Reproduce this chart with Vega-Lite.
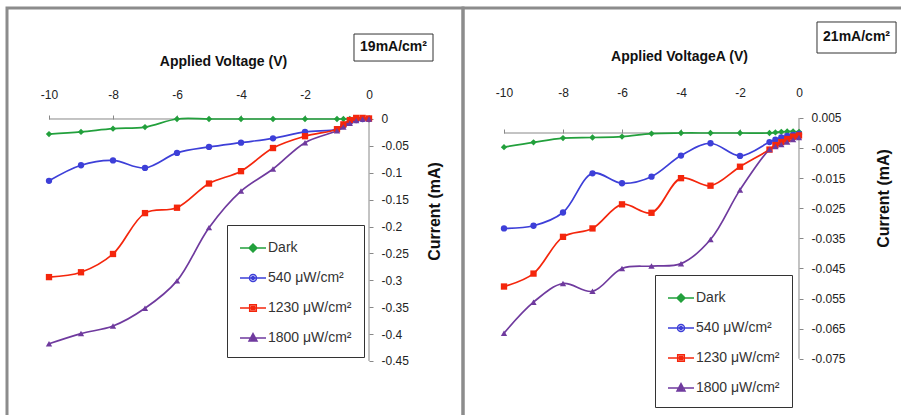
{
  "$schema": "https://vega.github.io/schema/vega-lite/v6.json",
  "padding": {"left": 5, "top": 6, "right": 0, "bottom": 0},
  "spacing": 0,
  "bounds": "flush",
  "background": "white",
  "config": {
    "view": {"stroke": "#8c8c8c", "strokeWidth": 3},
    "font": "Liberation Sans",
    "axis": {
      "domain": false, "grid": false, "ticks": true, "tickColor": "#888", "tickSize": 4, "tickWidth": 1,
      "labelColor": "#222", "labelFont": "Liberation Sans", "labelFontSize": 12,
      "labelOverlap": false, "labelFlush": false,
      "titleFont": "Liberation Sans", "titleFontWeight": "bold", "titleColor": "#111"
    },
    "legend": {
      "title": null, "padding": 12, "rowPadding": 12, "strokeColor": "#333", "fillColor": "white",
      "symbolSize": 400, "symbolStrokeWidth": 1.5, "symbolOffset": 3, "labelOffset": 4,
      "labelFont": "Liberation Sans", "labelFontSize": 14, "labelColor": "#333", "labelLimit": 300
    }
  },
  "resolve": {"scale": {"x": "independent", "y": "independent", "color": "independent", "shape": "independent"}},
  "datasets": {
    "left": [
      {"v": -10, "i": -0.028, "s": "Dark"}, {"v": -9, "i": -0.024, "s": "Dark"}, {"v": -8, "i": -0.018, "s": "Dark"}, {"v": -7, "i": -0.015, "s": "Dark"}, {"v": -6, "i": 0, "s": "Dark"}, {"v": -5, "i": 0, "s": "Dark"}, {"v": -4, "i": 0, "s": "Dark"}, {"v": -3, "i": 0, "s": "Dark"}, {"v": -2, "i": 0, "s": "Dark"}, {"v": -1, "i": 0, "s": "Dark"}, {"v": -0.8, "i": 0, "s": "Dark"}, {"v": -0.6, "i": 0, "s": "Dark"}, {"v": -0.4, "i": 0, "s": "Dark"}, {"v": -0.2, "i": 0, "s": "Dark"}, {"v": 0, "i": 0, "s": "Dark"},
      {"v": -10, "i": -0.115, "s": "540 μW/cm²"}, {"v": -9, "i": -0.086, "s": "540 μW/cm²"}, {"v": -8, "i": -0.077, "s": "540 μW/cm²"}, {"v": -7, "i": -0.091, "s": "540 μW/cm²"}, {"v": -6, "i": -0.063, "s": "540 μW/cm²"}, {"v": -5, "i": -0.052, "s": "540 μW/cm²"}, {"v": -4, "i": -0.044, "s": "540 μW/cm²"}, {"v": -3, "i": -0.036, "s": "540 μW/cm²"}, {"v": -2, "i": -0.024, "s": "540 μW/cm²"}, {"v": -1, "i": -0.019, "s": "540 μW/cm²"}, {"v": -0.8, "i": -0.012, "s": "540 μW/cm²"}, {"v": -0.6, "i": -0.006, "s": "540 μW/cm²"}, {"v": -0.4, "i": -0.002, "s": "540 μW/cm²"}, {"v": -0.2, "i": 0, "s": "540 μW/cm²"}, {"v": 0, "i": 0, "s": "540 μW/cm²"},
      {"v": -10, "i": -0.294, "s": "1230 μW/cm²"}, {"v": -9, "i": -0.285, "s": "1230 μW/cm²"}, {"v": -8, "i": -0.251, "s": "1230 μW/cm²"}, {"v": -7, "i": -0.175, "s": "1230 μW/cm²"}, {"v": -6, "i": -0.165, "s": "1230 μW/cm²"}, {"v": -5, "i": -0.12, "s": "1230 μW/cm²"}, {"v": -4, "i": -0.097, "s": "1230 μW/cm²"}, {"v": -3, "i": -0.054, "s": "1230 μW/cm²"}, {"v": -2, "i": -0.032, "s": "1230 μW/cm²"}, {"v": -1, "i": -0.019, "s": "1230 μW/cm²"}, {"v": -0.8, "i": -0.01, "s": "1230 μW/cm²"}, {"v": -0.6, "i": -0.002, "s": "1230 μW/cm²"}, {"v": -0.4, "i": 0.002, "s": "1230 μW/cm²"}, {"v": -0.2, "i": 0.002, "s": "1230 μW/cm²"}, {"v": 0, "i": 0.001, "s": "1230 μW/cm²"},
      {"v": -10, "i": -0.418, "s": "1800 μW/cm²"}, {"v": -9, "i": -0.399, "s": "1800 μW/cm²"}, {"v": -8, "i": -0.385, "s": "1800 μW/cm²"}, {"v": -7, "i": -0.352, "s": "1800 μW/cm²"}, {"v": -6, "i": -0.301, "s": "1800 μW/cm²"}, {"v": -5, "i": -0.202, "s": "1800 μW/cm²"}, {"v": -4, "i": -0.134, "s": "1800 μW/cm²"}, {"v": -3, "i": -0.093, "s": "1800 μW/cm²"}, {"v": -2, "i": -0.044, "s": "1800 μW/cm²"}, {"v": -1, "i": -0.022, "s": "1800 μW/cm²"}, {"v": -0.8, "i": -0.015, "s": "1800 μW/cm²"}, {"v": -0.6, "i": -0.008, "s": "1800 μW/cm²"}, {"v": -0.4, "i": -0.003, "s": "1800 μW/cm²"}, {"v": -0.2, "i": 0, "s": "1800 μW/cm²"}, {"v": 0, "i": 0, "s": "1800 μW/cm²"}
    ],
    "right": [
      {"v": -10, "i": -0.0047, "s": "Dark"}, {"v": -9, "i": -0.0031, "s": "Dark"}, {"v": -8, "i": -0.0017, "s": "Dark"}, {"v": -7, "i": -0.0015, "s": "Dark"}, {"v": -6, "i": -0.0012, "s": "Dark"}, {"v": -5, "i": -0.0002, "s": "Dark"}, {"v": -4, "i": 0, "s": "Dark"}, {"v": -3, "i": 0, "s": "Dark"}, {"v": -2, "i": 0, "s": "Dark"}, {"v": -1, "i": 0, "s": "Dark"}, {"v": -0.8, "i": 0.0002, "s": "Dark"}, {"v": -0.6, "i": 0.0004, "s": "Dark"}, {"v": -0.4, "i": 0.0005, "s": "Dark"}, {"v": -0.2, "i": 0.0005, "s": "Dark"}, {"v": 0, "i": 0.0004, "s": "Dark"},
      {"v": -10, "i": -0.0317, "s": "540 μW/cm²"}, {"v": -9, "i": -0.0308, "s": "540 μW/cm²"}, {"v": -8, "i": -0.0264, "s": "540 μW/cm²"}, {"v": -7, "i": -0.0134, "s": "540 μW/cm²"}, {"v": -6, "i": -0.0167, "s": "540 μW/cm²"}, {"v": -5, "i": -0.0145, "s": "540 μW/cm²"}, {"v": -4, "i": -0.0075, "s": "540 μW/cm²"}, {"v": -3, "i": -0.0034, "s": "540 μW/cm²"}, {"v": -2, "i": -0.0076, "s": "540 μW/cm²"}, {"v": -1, "i": -0.003, "s": "540 μW/cm²"}, {"v": -0.8, "i": -0.0022, "s": "540 μW/cm²"}, {"v": -0.6, "i": -0.0015, "s": "540 μW/cm²"}, {"v": -0.4, "i": -0.001, "s": "540 μW/cm²"}, {"v": -0.2, "i": -0.0006, "s": "540 μW/cm²"}, {"v": 0, "i": -0.0003, "s": "540 μW/cm²"},
      {"v": -10, "i": -0.051, "s": "1230 μW/cm²"}, {"v": -9, "i": -0.0467, "s": "1230 μW/cm²"}, {"v": -8, "i": -0.0345, "s": "1230 μW/cm²"}, {"v": -7, "i": -0.0317, "s": "1230 μW/cm²"}, {"v": -6, "i": -0.0237, "s": "1230 μW/cm²"}, {"v": -5, "i": -0.0265, "s": "1230 μW/cm²"}, {"v": -4, "i": -0.015, "s": "1230 μW/cm²"}, {"v": -3, "i": -0.0175, "s": "1230 μW/cm²"}, {"v": -2, "i": -0.0112, "s": "1230 μW/cm²"}, {"v": -1, "i": -0.0055, "s": "1230 μW/cm²"}, {"v": -0.8, "i": -0.004, "s": "1230 μW/cm²"}, {"v": -0.6, "i": -0.003, "s": "1230 μW/cm²"}, {"v": -0.4, "i": -0.002, "s": "1230 μW/cm²"}, {"v": -0.2, "i": -0.0012, "s": "1230 μW/cm²"}, {"v": 0, "i": -0.0008, "s": "1230 μW/cm²"},
      {"v": -10, "i": -0.0665, "s": "1800 μW/cm²"}, {"v": -9, "i": -0.0562, "s": "1800 μW/cm²"}, {"v": -8, "i": -0.05, "s": "1800 μW/cm²"}, {"v": -7, "i": -0.0526, "s": "1800 μW/cm²"}, {"v": -6, "i": -0.045, "s": "1800 μW/cm²"}, {"v": -5, "i": -0.0442, "s": "1800 μW/cm²"}, {"v": -4, "i": -0.0434, "s": "1800 μW/cm²"}, {"v": -3, "i": -0.0354, "s": "1800 μW/cm²"}, {"v": -2, "i": -0.0189, "s": "1800 μW/cm²"}, {"v": -1, "i": -0.0055, "s": "1800 μW/cm²"}, {"v": -0.8, "i": -0.0045, "s": "1800 μW/cm²"}, {"v": -0.6, "i": -0.0038, "s": "1800 μW/cm²"}, {"v": -0.4, "i": -0.003, "s": "1800 μW/cm²"}, {"v": -0.2, "i": -0.0022, "s": "1800 μW/cm²"}, {"v": 0, "i": -0.0015, "s": "1800 μW/cm²"}
    ]
  },
  "hconcat": [
    {
      "width": 456, "height": 410,
      "resolve": {"scale": {"color": "independent", "shape": "independent"}},
      "layer": [
        {
          "data": {"values": [{}]},
          "mark": {"type": "rule", "color": "#888", "strokeWidth": 1},
          "encoding": {"x": {"datum": -10, "type": "quantitative"}, "x2": {"datum": 0}, "y": {"datum": 0, "type": "quantitative"}}
        },
        {
          "data": {"values": [{}]},
          "mark": {"type": "rule", "color": "#888", "strokeWidth": 1},
          "encoding": {"x": {"datum": 0, "type": "quantitative"}, "y": {"datum": 0, "type": "quantitative"}, "y2": {"datum": -0.45}}
        },
        {
          "data": {"name": "left"},
          "mark": {"type": "line", "interpolate": "catmull-rom", "strokeWidth": 1.7},
          "encoding": {
            "x": {"field": "v", "type": "quantitative",
              "scale": {"domain": [-11.3125, 2.9375], "nice": false, "zero": false},
              "axis": {"orient": "top", "offset": -111, "values": [-10, -8, -6, -4, -2, 0], "labelPadding": 14,
                "labelExpr": "datum.value < 0 ? '-' + format(-datum.value, 'd') : '0'",
                "title": "Applied Voltage (V)", "titleFontSize": 14, "titleX": 216, "titleY": -58, "titleAlign": "center", "titleBaseline": "middle", "titleAngle": 0}},
            "y": {"field": "i", "type": "quantitative",
              "scale": {"domain": [-0.556, 0.2064], "nice": false, "zero": false},
              "axis": {"orient": "right", "offset": -94, "values": [0, -0.05, -0.1, -0.15, -0.2, -0.25, -0.3, -0.35, -0.4, -0.45], "labelPadding": 8,
                "labelExpr": "datum.value < 0 ? '-' + format(-datum.value, '~g') : '0'",
                "title": "Current (mA)", "titleFontSize": 16, "titleX": 65, "titleY": 203, "titleAngle": 270, "titleAlign": "center", "titleBaseline": "middle"}},
            "color": {"field": "s", "type": "nominal", "legend": null,
              "scale": {"domain": ["Dark", "540 μW/cm²", "1230 μW/cm²", "1800 μW/cm²"], "range": ["#22a03c", "#3d3fd8", "#f4260c", "#6f3a9e"]}}
          }
        },
        {
          "data": {"name": "left"},
          "mark": {"type": "point", "filled": true, "size": 40, "opacity": 1},
          "encoding": {
            "x": {"field": "v", "type": "quantitative"},
            "y": {"field": "i", "type": "quantitative"},
            "color": {"field": "s", "type": "nominal", "legend": null,
              "scale": {"domain": ["Dark", "540 μW/cm²", "1230 μW/cm²", "1800 μW/cm²"], "range": ["#22a03c", "#3d3fd8", "#f4260c", "#6f3a9e"]}},
            "shape": {"field": "s", "type": "nominal", "legend": null,
              "scale": {"domain": ["Dark", "540 μW/cm²", "1230 μW/cm²", "1800 μW/cm²"], "range": ["diamond", "circle", "square", "triangle-up"]}}
          }
        },
        {
          "data": {"name": "left"},
          "transform": [{"filter": "false"}],
          "mark": {"type": "point", "filled": false, "size": 400, "strokeWidth": 1.5, "opacity": 1},
          "encoding": {
            "color": {"field": "s", "type": "nominal",
              "scale": {"domain": ["Dark", "540 μW/cm²", "1230 μW/cm²", "1800 μW/cm²"], "range": ["#22a03c", "#3d3fd8", "#f4260c", "#6f3a9e"]},
              "legend": {"orient": "none", "legendX": 220, "legendY": 217,
                "encode": {"labels": {"update": {"fontSize": {"signal": "datum.value === 'Dark' ? 11 : 14"}}}}}},
            "shape": {"field": "s", "type": "nominal",
              "scale": {"domain": ["Dark", "540 μW/cm²", "1230 μW/cm²", "1800 μW/cm²"], "range": [
                "M-1.3,0L1.3,0M0,-0.4L0.4,0L0,0.4L-0.4,0ZM0,-0.2L0.2,0L0,0.2L-0.2,0Z",
                "M-1.3,0L1.3,0M0.35,0A0.35,0.35 0 1 1 -0.35,0A0.35,0.35 0 1 1 0.35,0ZM0.15,0A0.15,0.15 0 1 1 -0.15,0A0.15,0.15 0 1 1 0.15,0Z",
                "M-1.3,0L1.3,0M-0.33,-0.33H0.33V0.33H-0.33ZM-0.15,-0.15H0.15V0.15H-0.15Z",
                "M-1.3,0L1.3,0M0,-0.45L0.4,0.3L-0.4,0.3ZM0,-0.15L0.15,0.15L-0.15,0.15Z"]},
              "legend": {"orient": "none", "legendX": 220, "legendY": 217,
                "encode": {"labels": {"update": {"fontSize": {"signal": "datum.value === 'Dark' ? 11 : 14"}}}}}}
          }
        },
        {
          "data": {"values": [{}]},
          "mark": {"type": "rect", "fill": "white", "stroke": "#333", "strokeWidth": 1},
          "encoding": {"x": {"datum": -0.469, "type": "quantitative"}, "x2": {"datum": 2.0}, "y": {"datum": 0.158, "type": "quantitative"}, "y2": {"datum": 0.1078}}
        },
        {
          "data": {"values": [{}]},
          "mark": {"type": "text", "text": "19mA/cm²", "font": "Liberation Sans", "fontWeight": "bold", "fontSize": 14, "color": "#111", "align": "center", "baseline": "middle"},
          "encoding": {"x": {"datum": 0.766, "type": "quantitative"}, "y": {"datum": 0.133, "type": "quantitative"}}
        }
      ]
    },
    {
      "width": 445, "height": 410,
      "resolve": {"scale": {"color": "independent", "shape": "independent"}},
      "layer": [
        {
          "data": {"values": [{}]},
          "mark": {"type": "rule", "color": "#888", "strokeWidth": 1},
          "encoding": {"x": {"datum": -10, "type": "quantitative"}, "x2": {"datum": 0}, "y": {"datum": 0, "type": "quantitative"}}
        },
        {
          "data": {"values": [{}]},
          "mark": {"type": "rule", "color": "#888", "strokeWidth": 1},
          "encoding": {"x": {"datum": 0, "type": "quantitative"}, "y": {"datum": 0.005, "type": "quantitative"}, "y2": {"datum": -0.075}}
        },
        {
          "data": {"name": "right"},
          "mark": {"type": "line", "interpolate": "catmull-rom", "strokeWidth": 1.7},
          "encoding": {
            "x": {"field": "v", "type": "quantitative",
              "scale": {"domain": [-11.39, 3.695], "nice": false, "zero": false},
              "axis": {"orient": "top", "offset": -125, "values": [-10, -8, -6, -4, -2, 0], "labelPadding": 30,
                "labelExpr": "datum.value < 0 ? '-' + format(-datum.value, 'd') : '0'",
                "title": "Applied VoltageA (V)", "titleFontSize": 14, "titleX": 216, "titleY": -77, "titleAlign": "center", "titleBaseline": "middle", "titleAngle": 0}},
            "y": {"field": "i", "type": "quantitative",
              "scale": {"domain": [-0.09468, 0.04153], "nice": false, "zero": false},
              "axis": {"orient": "right", "offset": -109, "values": [0.005, -0.005, -0.015, -0.025, -0.035, -0.045, -0.055, -0.065, -0.075], "labelPadding": 8,
                "labelExpr": "(datum.value < 0 ? '-' : '') + format(abs(datum.value), '.3f')",
                "title": "Current (mA)", "titleFontSize": 16, "titleX": 84, "titleY": 190, "titleAngle": 270, "titleAlign": "center", "titleBaseline": "middle"}},
            "color": {"field": "s", "type": "nominal", "legend": null,
              "scale": {"domain": ["Dark", "540 μW/cm²", "1230 μW/cm²", "1800 μW/cm²"], "range": ["#22a03c", "#3d3fd8", "#f4260c", "#6f3a9e"]}}
          }
        },
        {
          "data": {"name": "right"},
          "mark": {"type": "point", "filled": true, "size": 40, "opacity": 1},
          "encoding": {
            "x": {"field": "v", "type": "quantitative"},
            "y": {"field": "i", "type": "quantitative"},
            "color": {"field": "s", "type": "nominal", "legend": null,
              "scale": {"domain": ["Dark", "540 μW/cm²", "1230 μW/cm²", "1800 μW/cm²"], "range": ["#22a03c", "#3d3fd8", "#f4260c", "#6f3a9e"]}},
            "shape": {"field": "s", "type": "nominal", "legend": null,
              "scale": {"domain": ["Dark", "540 μW/cm²", "1230 μW/cm²", "1800 μW/cm²"], "range": ["diamond", "circle", "square", "triangle-up"]}}
          }
        },
        {
          "data": {"name": "right"},
          "transform": [{"filter": "false"}],
          "mark": {"type": "point", "filled": false, "size": 400, "strokeWidth": 1.5, "opacity": 1},
          "encoding": {
            "color": {"field": "s", "type": "nominal",
              "scale": {"domain": ["Dark", "540 μW/cm²", "1230 μW/cm²", "1800 μW/cm²"], "range": ["#22a03c", "#3d3fd8", "#f4260c", "#6f3a9e"]},
              "legend": {"orient": "none", "legendX": 192, "legendY": 267,
                "encode": {"labels": {"update": {"fontSize": {"signal": "datum.value === 'Dark' ? 11 : 14"}}}}}},
            "shape": {"field": "s", "type": "nominal",
              "scale": {"domain": ["Dark", "540 μW/cm²", "1230 μW/cm²", "1800 μW/cm²"], "range": [
                "M-1.3,0L1.3,0M0,-0.4L0.4,0L0,0.4L-0.4,0ZM0,-0.2L0.2,0L0,0.2L-0.2,0Z",
                "M-1.3,0L1.3,0M0.35,0A0.35,0.35 0 1 1 -0.35,0A0.35,0.35 0 1 1 0.35,0ZM0.15,0A0.15,0.15 0 1 1 -0.15,0A0.15,0.15 0 1 1 0.15,0Z",
                "M-1.3,0L1.3,0M-0.33,-0.33H0.33V0.33H-0.33ZM-0.15,-0.15H0.15V0.15H-0.15Z",
                "M-1.3,0L1.3,0M0,-0.45L0.4,0.3L-0.4,0.3ZM0,-0.15L0.15,0.15L-0.15,0.15Z"]},
              "legend": {"orient": "none", "legendX": 192, "legendY": 267,
                "encode": {"labels": {"update": {"fontSize": {"signal": "datum.value === 'Dark' ? 11 : 14"}}}}}}
          }
        },
        {
          "data": {"values": [{}]},
          "mark": {"type": "rect", "fill": "white", "stroke": "#333", "strokeWidth": 1},
          "encoding": {"x": {"datum": 0.61, "type": "quantitative"}, "x2": {"datum": 3.29}, "y": {"datum": 0.03688, "type": "quantitative"}, "y2": {"datum": 0.02658}}
        },
        {
          "data": {"values": [{}]},
          "mark": {"type": "text", "text": "21mA/cm²", "font": "Liberation Sans", "fontWeight": "bold", "fontSize": 14, "color": "#111", "align": "center", "baseline": "middle"},
          "encoding": {"x": {"datum": 1.95, "type": "quantitative"}, "y": {"datum": 0.03173, "type": "quantitative"}}
        }
      ]
    }
  ]
}
